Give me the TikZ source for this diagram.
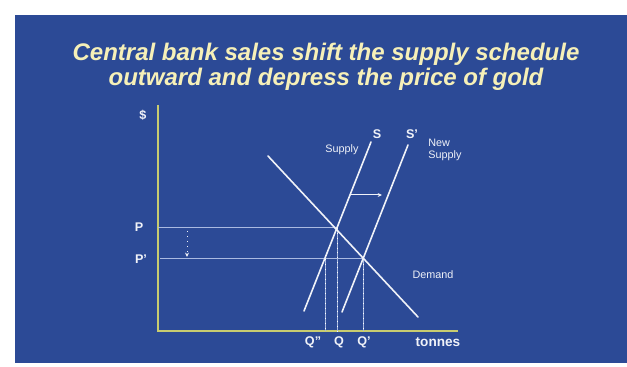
\documentclass[tikz,border=0pt]{standalone}
\usepackage{fontspec}
\setmainfont{Liberation Sans}
\usepackage{tikz}
\usetikzlibrary{arrows.meta,calc}
\definecolor{slideblue}{RGB}{44,74,150}
\definecolor{titlecream}{RGB}{246,240,184}
\definecolor{axisolive}{RGB}{200,204,112}
\definecolor{guidegrey}{RGB}{170,186,225}
\definecolor{curvewhite}{RGB}{240,242,248}
\tikzset{
  axisline/.style={line width=1.4pt,draw=axisolive},
  curve/.style={line width=0.8pt,draw=curvewhite,line cap=round},
  guide/.style={line width=0.5pt,draw=guidegrey},
  dropline/.style={guide,postaction={draw=white,dotted,line width=0.45pt}},
  shiftarrow/.style={-{Stealth[length=2.2pt,width=2pt]},line width=0.5pt,draw=curvewhite},
  axislabel/.style={font=\bfseries\fontsize{6.3}{7}\selectfont,text=curvewhite,inner sep=1pt},
  curvelabel/.style={font=\fontsize{5.4}{6.4}\selectfont,text=curvewhite,align=left,inner sep=1pt},
  titletext/.style={font=\bfseries\itshape\fontsize{12}{12.5}\selectfont,text=titlecream,align=center}
}
\begin{document}
\begin{tikzpicture}[x=0.5pt,y=-0.5pt]
  % slide background
  \fill[white] (0,0) rectangle (627,367);
  \fill[slideblue] (15,15) rectangle (627,363);
  \node[titletext] (title) at (326,67)
    {Central bank sales shift the supply schedule\\
     outward and depress the price of gold};
  % axes
  \coordinate (origin) at (158,331);
  \coordinate (ytop) at (158,105);
  \coordinate (xend) at (458,331);
  \draw[axisline] (ytop) -- (origin) -- (xend);
  % curves
  \coordinate (sLow) at (304,311);
  \coordinate (sHigh) at (371,142);
  \coordinate (snLow) at (342,312);
  \coordinate (snHigh) at (408,145);
  \coordinate (dHigh) at (268,156);
  \coordinate (dLow) at (418,317);
  \coordinate (eqOld) at (337,228);
  \coordinate (eqNew) at (363,259);
  \coordinate (sAtNew) at (325,259);
  \coordinate (pAxis) at (158,228);
  \coordinate (pnAxis) at (160,259);
  \coordinate (qOld) at (337,331);
  \coordinate (qNew) at (363,331);
  \coordinate (qLow) at (325,331);
  % price and quantity guides
  \draw[guide] (pAxis) -- (eqOld);
  \draw[guide] (pnAxis) -- (eqNew);
  \draw[dropline] (eqOld) -- (qOld);
  \draw[dropline] (sAtNew) -- (qLow);
  \draw[dropline] (eqNew) -- (qNew);
  \draw[curve] (sLow) -- (sHigh);
  \draw[curve] (snLow) -- (snHigh);
  \draw[curve] (dHigh) -- (dLow);
  % shifts
  \coordinate (dropTop) at (187,231);
  \coordinate (dropBot) at (187,257);
  \draw[shiftarrow,dotted] (dropTop) -- (dropBot);
  \coordinate (shiftFrom) at (350,195);
  \coordinate (shiftTo) at (382,195);
  \draw[shiftarrow] (shiftFrom) -- (shiftTo);
  % labels
  \node[axislabel] (dollar) at (143,115) {\$};
  \node[axislabel] (pLab) at (139,227) {P};
  \node[axislabel] (pnLab) at (141,259) {P'};
  \node[axislabel] (qlLab) at (313,342) {Q"};
  \node[axislabel] (qLab) at (339,342) {Q};
  \node[axislabel] (qnLab) at (364,342) {Q'};
  \node[axislabel,font=\bfseries\fontsize{6.8}{7}\selectfont] (tonLab) at (438,342) {tonnes};
  \node[axislabel] (sLab) at (377,134) {S};
  \node[axislabel] (snLab) at (412,134) {S'};
  \node[curvelabel] (supLab) at (342,150) {Supply};
  \node[curvelabel,anchor=west] (newLab) at (426,150) {New\\Supply};
  \node[curvelabel] (demLab) at (433,275) {Demand};
\end{tikzpicture}
\end{document}
